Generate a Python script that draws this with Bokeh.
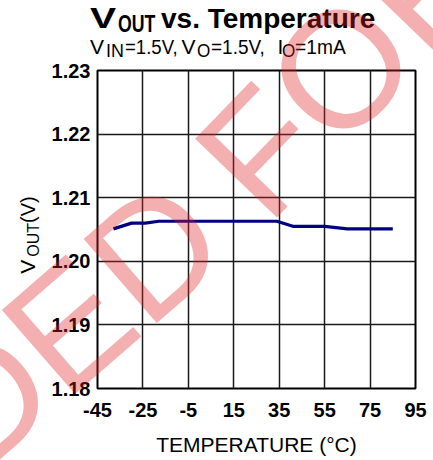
import math
from bokeh.plotting import figure
from bokeh.layouts import column, row
from bokeh.models import Range1d, FixedTicker, PrintfTickFormatter, Div
from bokeh.embed import file_html
from bokeh.resources import INLINE

# ---- data ----
temps = [-38, -30, -24, -18, 34, 41, 55, 65, 85]
vout = [1.2051, 1.2060, 1.2060, 1.2063, 1.2063, 1.2055, 1.2055, 1.2051, 1.2051]
x_ticks = [-45, -25, -5, 15, 35, 55, 75, 95]
y_ticks = [1.18, 1.19, 1.20, 1.21, 1.22, 1.23]

FONT = "Liberation Sans"
PAGE_W, PAGE_H = 433, 460
TOP_H = 62          # height of the title block
LEFT_W = 48         # width of the y-label block
FIG_W, FIG_H = PAGE_W - LEFT_W, PAGE_H - TOP_H
FL, FT, FW, FH = 49, 8, 318, 318   # frame left/top/width/height inside figure

p = figure(width=FIG_W, height=FIG_H, output_backend="svg", toolbar_location=None,
           x_range=Range1d(-45, 95), y_range=Range1d(1.18, 1.23),
           min_border_left=FL, min_border_top=FT,
           min_border_right=FIG_W - FL - FW, min_border_bottom=FIG_H - FT - FH)
p.background_fill_color = "white"
p.border_fill_color = "white"
p.outline_line_color = "black"
p.outline_line_width = 2

for ax in (p.xaxis[0], p.yaxis[0]):
    ax.axis_line_color = None
    ax.major_tick_line_color = None
    ax.minor_tick_line_color = None
    ax.major_tick_in = 0
    ax.major_tick_out = 0
    ax.major_label_text_font = FONT
    ax.major_label_text_font_size = "20px"
    ax.major_label_text_font_style = "bold"
    ax.major_label_text_color = "black"

p.xaxis.ticker = FixedTicker(ticks=x_ticks)
p.yaxis.ticker = FixedTicker(ticks=y_ticks)
p.xaxis.formatter = PrintfTickFormatter(format="%d")
p.yaxis.formatter = PrintfTickFormatter(format="%.2f")
p.xaxis.major_label_standoff = 14
p.yaxis.major_label_standoff = 7

p.xaxis.axis_label = "TEMPERATURE (°C)"
p.xaxis.axis_label_text_font = FONT
p.xaxis.axis_label_text_font_size = "21px"
p.xaxis.axis_label_text_font_style = "normal"
p.xaxis.axis_label_text_color = "black"
p.xaxis.axis_label_standoff = 13

for g in (p.xgrid[0], p.ygrid[0]):
    g.grid_line_color = "#1a1a1a"
    g.grid_line_width = 1.5
    g.grid_line_alpha = 1.0
p.xgrid.ticker = FixedTicker(ticks=x_ticks)
p.ygrid.ticker = FixedTicker(ticks=y_ticks)

p.line(temps, vout, line_color="#000080", line_width=3.2)

# ---- title block (HTML text) ----
def span(text, X, Y, size, weight="normal", sx=1.0):
    top = Y - 0.8465 * size
    return (f'<span style="position:absolute;left:{X}px;top:{top:.1f}px;'
            f'font-size:{size}px;line-height:1;font-weight:{weight};'
            f'white-space:nowrap;transform-origin:0 0;transform:scaleX({sx})">{text}</span>')

title_parts = [
    ("V", 90, 28.5, 29, "bold", 1.35), ("OUT", 118, 32.5, 23, "bold", 0.77),
    ("vs. Temperature", 161, 28.5, 28, "bold", 1.0),
    ("V", 90, 54, 21, "normal", 1.0), ("IN", 105.5, 57.5, 19, "normal", 0.94),
    ("=1.5V,", 125, 54, 20, "normal", 0.93), ("V", 181.5, 54, 21, "normal", 1.0),
    ("O", 196.5, 57.5, 19, "normal", 0.9), ("=1.5V,", 211, 54, 20, "normal", 0.95),
    ("I", 277.5, 54, 21, "normal", 1.0), ("O", 282, 57.5, 19, "normal", 0.9),
    ("=1mA", 295, 54, 20, "normal", 0.96),
]

# watermark drawn as a page overlay (rotated, translucent text)
def wm(text, X, Y, size, deg, align):
    base = 0.8465 * size
    tr = f"rotate(-{deg}deg)" + (" translateX(-100%)" if align == "right" else "")
    return (f'<div style="position:absolute;left:{X}px;top:{Y - base:.1f}px;'
            f'font-size:{size}px;line-height:1;white-space:nowrap;color:#e02020;opacity:0.35;'
            f'transform-origin:0px {base:.1f}px;transform:{tr}">{text}</div>')

overlay = (f'<div style="position:absolute;left:0;top:0;width:{PAGE_W}px;height:{PAGE_H}px;'
           f'overflow:hidden;pointer-events:none;z-index:10">'
           + wm("RECOMMENDED", 235, 255, 162, 41, "right")
           + wm("FOR", 268, 228, 165, 46, "left") + '</div>')

title_html = (f'<div style="position:relative;width:{PAGE_W}px;height:{TOP_H}px;'
              f'font-family:\'{FONT}\';color:black">'
              + "".join(span(*t) for t in title_parts) + overlay + '</div>')
title_div = Div(text=title_html, width=PAGE_W, height=TOP_H, margin=0)

# ---- y axis label block (rotated HTML text) ----
YL_X, YL_Y, YL_SIZE = 35, 273.5, 21
base = 0.8465 * YL_SIZE
ylabel_html = (
    f'<div style="position:relative;width:{LEFT_W}px;height:{FIG_H}px;'
    f'font-family:\'{FONT}\';color:black">'
    f'<div style="position:absolute;left:{YL_X}px;top:{YL_Y - TOP_H - base:.1f}px;'
    f'font-size:{YL_SIZE}px;line-height:1;white-space:nowrap;'
    f'transform-origin:0px {base:.1f}px;transform:rotate(-90deg)">'
    f'V<span style="font-size:16px;position:relative;top:3.5px;margin-left:3px">OUT</span>'
    f'<span style="font-size:20px">(V)</span></div></div>'
)
ylabel_div = Div(text=ylabel_html, width=LEFT_W, height=FIG_H, margin=0)

layout = column(title_div, row(ylabel_div, p, spacing=0), spacing=0)

open("out.html", "w").write(file_html(layout, INLINE))
